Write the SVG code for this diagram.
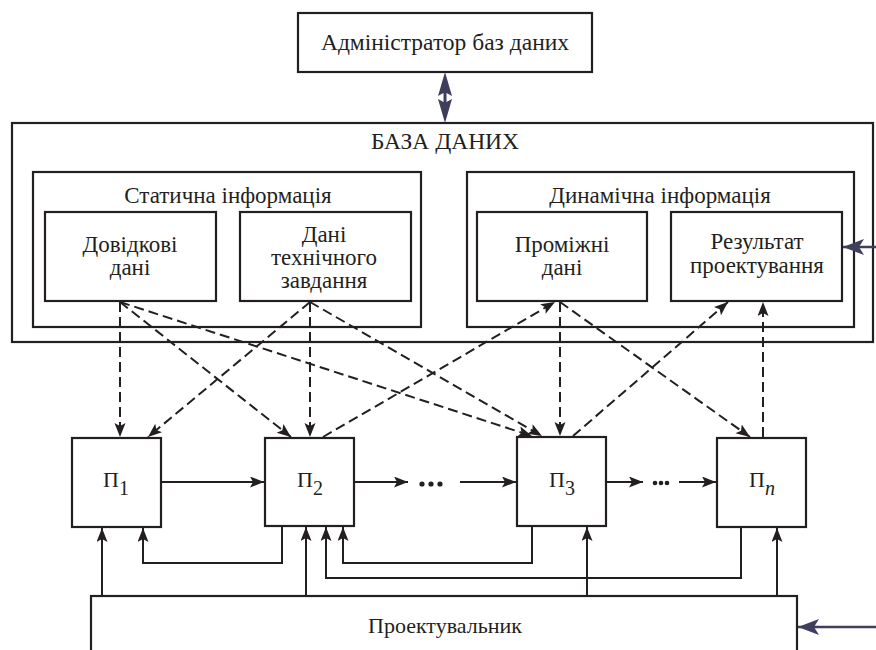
<svg xmlns="http://www.w3.org/2000/svg" width="876" height="650" viewBox="0 0 876 650">
<style>
  .box{fill:#fff;stroke:#231f20;stroke-width:2.2}
  .t{font-family:"Liberation Serif","Times New Roman",serif;fill:#231f20;text-anchor:middle}
  .ln{fill:none;stroke:#231f20;stroke-width:2}
  .dash{fill:none;stroke:#231f20;stroke-width:2;stroke-dasharray:10 5}
  .blue{fill:none;stroke:#3f3e5c;stroke-width:2.4}
</style>
<defs>
  <marker id="ah" markerUnits="userSpaceOnUse" markerWidth="16" markerHeight="13" refX="14" refY="5.5" orient="auto">
    <path d="M0,0 L14,5.5 L0,11 L3,5.5 z" fill="#231f20"/>
  </marker>
  <marker id="bh" markerUnits="userSpaceOnUse" markerWidth="22" markerHeight="18" refX="21" refY="8" orient="auto">
    <path d="M0,0 L21,8 L0,16 L5,8 z" fill="#3f3e5c"/>
  </marker>
</defs>
<rect width="876" height="650" fill="#fff"/>

<g id="admin">
  <rect class="box" x="298" y="13" width="294" height="59"/>
  <text class="t" x="445" y="50" font-size="23.5">Адміністратор баз даних</text>
</g>

<g id="db">
  <rect class="box" x="12" y="123" width="861" height="219"/>
  <text class="t" x="445" y="149" font-size="23.5">БАЗА ДАНИХ</text>
</g>

<g id="static">
  <rect class="box" x="33" y="172" width="388" height="155"/>
  <text class="t" x="228" y="203" font-size="23">Статична інформація</text>
</g>
<g id="dovidkovi">
  <rect class="box" x="45" y="212" width="171" height="89"/>
  <text class="t" x="130" y="252" font-size="23">Довідкові</text>
  <text class="t" x="130" y="275" font-size="23">дані</text>
</g>
<g id="tz">
  <rect class="box" x="240" y="212" width="171" height="89"/>
  <text class="t" x="324" y="242" font-size="23">Дані</text>
  <text class="t" x="324" y="265" font-size="23">технічного</text>
  <text class="t" x="324" y="288" font-size="23">завдання</text>
</g>

<g id="dynamic">
  <rect class="box" x="467" y="172" width="387" height="155"/>
  <text class="t" x="660" y="203" font-size="23">Динамічна інформація</text>
</g>
<g id="promizhni">
  <rect class="box" x="477" y="212" width="170" height="89"/>
  <text class="t" x="562" y="252" font-size="23">Проміжні</text>
  <text class="t" x="562" y="275" font-size="23">дані</text>
</g>
<g id="result">
  <rect class="box" x="671" y="212" width="171" height="89"/>
  <text class="t" x="757" y="249" font-size="23">Результат</text>
  <text class="t" x="757" y="273" font-size="23">проектування</text>
</g>

<g id="p1">
  <rect class="box" x="72" y="438" width="89" height="89"/>
  <text class="t" x="116" y="487" font-size="22">П<tspan font-size="20" dy="8">1</tspan></text>
</g>
<g id="p2">
  <rect class="box" x="265" y="438" width="89" height="88"/>
  <text class="t" x="310" y="487" font-size="22">П<tspan font-size="20" dy="8">2</tspan></text>
</g>
<g id="p3">
  <rect class="box" x="517" y="437" width="89" height="89"/>
  <text class="t" x="562" y="487" font-size="22">П<tspan font-size="20" dy="8">3</tspan></text>
</g>
<g id="pn">
  <rect class="box" x="717" y="438" width="89" height="89"/>
  <text class="t" x="762" y="487" font-size="22">П<tspan font-size="20" dy="8" font-style="italic">n</tspan></text>
</g>

<g id="designer">
  <rect class="box" x="91" y="596" width="706" height="70"/>
  <text class="t" x="445" y="633" font-size="22">Проектувальник</text>
</g>

<g id="connectors">
  <path d="M445,72 L452,96 L446.5,93 L446.5,102 L452,99 L445,123 L438,99 L443.5,102 L443.5,93 L438,96 z" fill="#3f3e5c"/>
  <line class="blue" x1="876" y1="247" x2="843" y2="247" marker-end="url(#bh)"/>
  <line class="blue" x1="876" y1="627" x2="798" y2="627" marker-end="url(#bh)"/>

  <line class="dash" x1="120" y1="302" x2="120" y2="437" marker-end="url(#ah)"/>
  <line class="dash" x1="120" y1="302" x2="291" y2="437" marker-end="url(#ah)"/>
  <line class="dash" x1="120" y1="302" x2="532" y2="436" marker-end="url(#ah)"/>
  <line class="dash" x1="310" y1="302" x2="148" y2="437" marker-end="url(#ah)"/>
  <line class="dash" x1="310" y1="302" x2="310" y2="437" marker-end="url(#ah)"/>
  <line class="dash" x1="310" y1="302" x2="542" y2="436" marker-end="url(#ah)"/>
  <line class="dash" x1="323" y1="437" x2="555" y2="302" marker-end="url(#ah)"/>
  <line class="dash" x1="560" y1="302" x2="560" y2="436" marker-end="url(#ah)"/>
  <line class="dash" x1="560" y1="302" x2="750" y2="437" marker-end="url(#ah)"/>
  <line class="dash" x1="573" y1="436" x2="728" y2="302" marker-end="url(#ah)"/>
  <line class="dash" x1="763" y1="437" x2="763" y2="302" marker-end="url(#ah)"/>

  <line class="ln" x1="161" y1="482" x2="264" y2="482" marker-end="url(#ah)"/>
  <line class="ln" x1="354" y1="482" x2="408" y2="482" marker-end="url(#ah)"/>
  <circle cx="422" cy="484" r="2.6" fill="#231f20"/>
  <circle cx="431" cy="484" r="2.6" fill="#231f20"/>
  <circle cx="440" cy="484" r="2.6" fill="#231f20"/>
  <line class="ln" x1="460" y1="482" x2="516" y2="482" marker-end="url(#ah)"/>
  <line class="ln" x1="606" y1="482" x2="643" y2="482" marker-end="url(#ah)"/>
  <circle cx="655" cy="483" r="2.3" fill="#231f20"/>
  <circle cx="661" cy="483" r="2.3" fill="#231f20"/>
  <circle cx="667" cy="483" r="2.3" fill="#231f20"/>
  <line class="ln" x1="679" y1="482" x2="716" y2="482" marker-end="url(#ah)"/>

  <polyline class="ln" points="282,526 282,563 143,563 143,528" marker-end="url(#ah)"/>
  <polyline class="ln" points="532,526 532,563 343,563 343,527" marker-end="url(#ah)"/>
  <polyline class="ln" points="741,527 741,578 326,578 326,527" marker-end="url(#ah)"/>

  <line class="ln" x1="102" y1="596" x2="102" y2="528" marker-end="url(#ah)"/>
  <line class="ln" x1="306" y1="596" x2="306" y2="527" marker-end="url(#ah)"/>
  <line class="ln" x1="587" y1="596" x2="587" y2="527" marker-end="url(#ah)"/>
  <line class="ln" x1="777" y1="596" x2="777" y2="528" marker-end="url(#ah)"/>
</g>
</svg>
